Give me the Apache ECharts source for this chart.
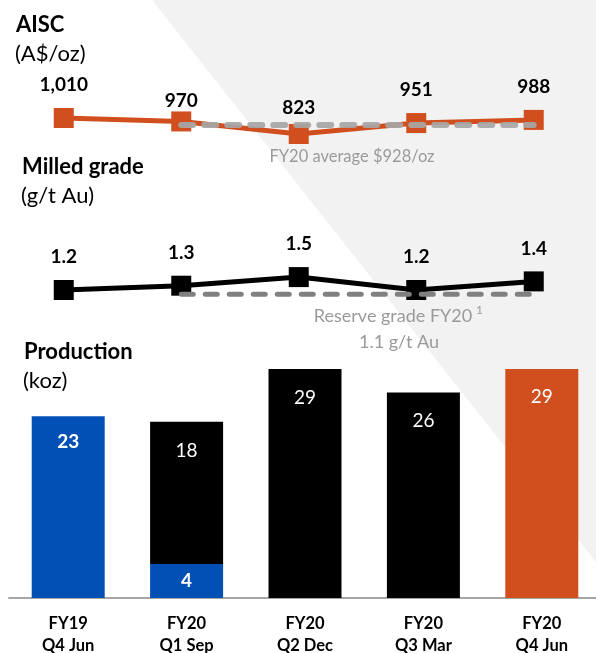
<!DOCTYPE html>
<html>
<head>
<meta charset="utf-8">
<script src="https://cdn.jsdelivr.net/npm/echarts@6/dist/echarts.min.js"></script>
<style>
html,body{margin:0;padding:0;background:#fff;}
#chart{width:596px;height:653px;}
</style>
</head>
<body>
<div id="chart"></div>
<script>
// ---- data ----
var categories = ['FY19\nQ4 Jun', 'FY20\nQ1 Sep', 'FY20\nQ2 Dec', 'FY20\nQ3 Mar', 'FY20\nQ4 Jun'];
var aisc = [1010, 970, 823, 951, 988];
var aiscAverage = [null, 928, 928, 928, 928];
var grade = [1.2, 1.3, 1.5, 1.2, 1.4];
var reserveGrade = [null, 1.1, 1.1, 1.1, 1.1];
var prodBlue = [23, 4.3, null, null, null];
var prodBlack = [null, 18, 29, 26, null];
var prodOrange = [null, null, null, null, 29];

// ---- styles ----
var FONT = 'Lato, "Open Sans", sans-serif';
var ORANGE = '#d14f1e';
var BLUE = '#0050b5';
var aiscLabelDist = [13.5, 1, 6.5, 14, 14];

var chart = echarts.init(document.getElementById('chart'), null, {renderer: 'canvas'});

function catAxis(gridIndex, show) {
  return {
    type: 'category', gridIndex: gridIndex, data: categories,
    show: show,
    axisLine: {show: show, lineStyle: {color: '#a6a6a6', width: 2}},
    axisTick: {show: false},
    axisLabel: {show: show, color: '#000', fontFamily: FONT, fontWeight: 'bold', fontSize: 16.5, lineHeight: 22, margin: 15}
  };
}

var option = {
  animation: false,
  backgroundColor: '#ffffff',
  textStyle: {fontFamily: FONT},
  graphic: [
    {type: 'polygon', z: -10, silent: true, shape: {points: [[152, 0], [596, 0], [596, 562]]}, style: {fill: '#f2f2f2'}},
    {type: 'text', x: 16, y: 25, style: {text: 'AISC', font: 'bold 22px ' + FONT, fill: '#000', verticalAlign: 'middle'}},
    {type: 'text', x: 15, y: 54, style: {text: '(A$/oz)', font: '22px ' + FONT, fill: '#000', verticalAlign: 'middle'}},
    {type: 'text', x: 22, y: 167, style: {text: 'Milled grade', font: 'bold 22px ' + FONT, fill: '#000', verticalAlign: 'middle'}},
    {type: 'text', x: 21, y: 196, style: {text: '(g/t Au)', font: '22px ' + FONT, fill: '#000', verticalAlign: 'middle'}},
    {type: 'text', x: 24, y: 352, style: {text: 'Production', font: 'bold 22px ' + FONT, fill: '#000', verticalAlign: 'middle'}},
    {type: 'text', x: 23, y: 381, style: {text: '(koz)', font: '22px ' + FONT, fill: '#000', verticalAlign: 'middle'}},
    {type: 'text', x: 352, y: 157, style: {text: 'FY20 average $928/oz', font: '16.5px ' + FONT, fill: '#9a9a9a', align: 'center', verticalAlign: 'middle'}},
    {type: 'text', x: 393, y: 316, style: {text: 'Reserve grade FY20', font: '18px ' + FONT, fill: '#9a9a9a', align: 'center', verticalAlign: 'middle'}},
    {type: 'text', x: 476, y: 310, style: {text: '1', font: '12px ' + FONT, fill: '#9a9a9a', align: 'left', verticalAlign: 'middle'}},
    {type: 'text', x: 399, y: 342, style: {text: '1.1 g/t Au', font: '18px ' + FONT, fill: '#9a9a9a', align: 'center', verticalAlign: 'middle'}}
  ],
  grid: [
    {left: 5, width: 587.5, top: 110.3, height: 25.7, outerBoundsMode: 'none', containLabel: false},
    {left: 5, width: 587.5, top: 272.8, height: 25.8, outerBoundsMode: 'none', containLabel: false},
    {left: 9, width: 592, top: 361, height: 237, outerBoundsMode: 'none', containLabel: false}
  ],
  xAxis: [catAxis(0, false), catAxis(1, false), catAxis(2, true)],
  yAxis: [
    {type: 'value', gridIndex: 0, min: 800, max: 1100, show: false},
    {type: 'value', gridIndex: 1, min: 1.0, max: 1.6, show: false},
    {type: 'value', gridIndex: 2, min: 0, max: 30, show: false}
  ],
  series: [
    {
      type: 'line', xAxisIndex: 0, yAxisIndex: 0, z: 3,
      data: aisc.map(function (v, i) {
        return {value: v, label: {distance: aiscLabelDist[i]}};
      }),
      symbol: 'rect', symbolSize: 20,
      lineStyle: {color: ORANGE, width: 5},
      itemStyle: {color: ORANGE},
      label: {show: true, position: 'top', color: '#000', fontWeight: 'bold', fontSize: 19, fontFamily: FONT,
        formatter: function (p) { return p.value.toLocaleString('en-US'); }}
    },
    {
      type: 'line', xAxisIndex: 0, yAxisIndex: 0, z: 5,
      data: aiscAverage, symbol: 'none',
      lineStyle: {color: '#a6a6a6', width: 6, type: [12, 11], cap: 'round', opacity: 0.92}
    },
    {
      type: 'line', xAxisIndex: 1, yAxisIndex: 1, z: 3,
      data: grade,
      symbol: 'rect', symbolSize: 20,
      lineStyle: {color: '#000', width: 5},
      itemStyle: {color: '#000'},
      label: {show: true, position: 'top', distance: 13.5, color: '#000', fontWeight: 'bold', fontSize: 19, fontFamily: FONT,
        formatter: function (p) { return p.value.toFixed(1); }}
    },
    {
      type: 'line', xAxisIndex: 1, yAxisIndex: 1, z: 5,
      data: reserveGrade, symbol: 'none',
      lineStyle: {color: '#808080', width: 5, type: [12, 12], cap: 'round'}
    },
    {
      type: 'bar', xAxisIndex: 2, yAxisIndex: 2, stack: 'p', barWidth: 73,
      data: prodBlue.map(function (v, i) {
        return {value: v, label: {position: i === 0 ? 'insideTop' : 'inside', distance: 16.5}};
      }),
      itemStyle: {color: BLUE},
      label: {show: true, color: '#fff', fontWeight: 'bold', fontSize: 19, fontFamily: FONT,
        formatter: function (p) { return Math.round(p.value); }}
    },
    {
      type: 'bar', xAxisIndex: 2, yAxisIndex: 2, stack: 'p', barWidth: 73,
      data: prodBlack.map(function (v, i) {
        return {value: v, label: {distance: i === 1 ? 20 : 19}};
      }),
      itemStyle: {color: '#000'},
      label: {show: true, position: 'insideTop', color: '#fff', fontSize: 19, fontFamily: FONT,
        formatter: function (p) { return Math.round(p.value); }}
    },
    {
      type: 'bar', xAxisIndex: 2, yAxisIndex: 2, stack: 'p', barWidth: 73,
      data: prodOrange,
      itemStyle: {color: ORANGE},
      label: {show: true, position: 'insideTop', distance: 18.5, color: '#fff', fontSize: 19, fontFamily: FONT,
        formatter: function (p) { return Math.round(p.value); }}
    }
  ]
};
chart.setOption(option);
</script>
</body>
</html>
